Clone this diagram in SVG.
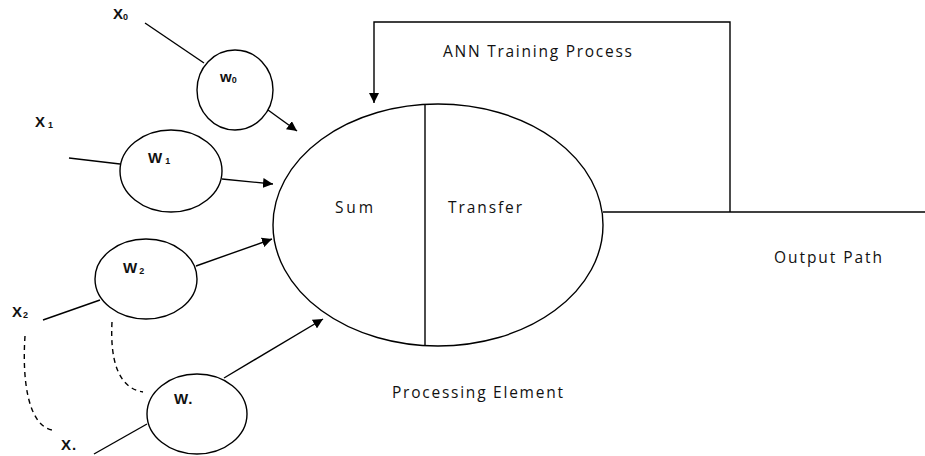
<svg xmlns="http://www.w3.org/2000/svg" width="925" height="456" viewBox="0 0 925 456">
  <defs>
    <marker id="arrow" viewBox="0 0 10 10" refX="10" refY="5" markerWidth="10" markerHeight="10" markerUnits="userSpaceOnUse" orient="auto">
      <path d="M0,0 L10,5 L0,10 Z" fill="#000"/>
    </marker>
    <style>
      .shape { fill: #fff; stroke: #000; stroke-width: 1.4; }
      .line { fill: none; stroke: #000; stroke-width: 1.4; }
      .dash { fill: none; stroke: #000; stroke-width: 1.4; stroke-dasharray: 5 4; }
      .lbl { font-family: "Open Sans", "Liberation Sans", sans-serif; font-size: 15.5px; fill: #111; }
      .var { font-family: "Liberation Sans", "Open Sans", sans-serif; font-size: 15px; font-weight: bold; fill: #111; }
      .sub { font-size: 9px; }
    </style>
  </defs>

  <!-- connectors -->
  <g id="connectors">
    <!-- inputs into weights -->
    <line class="line" x1="145" y1="23" x2="204" y2="63"/>
    <line class="line" x1="69" y1="158" x2="120" y2="164"/>
    <line class="line" x1="43" y1="320" x2="100" y2="300"/>
    <line class="line" x1="94" y1="454" x2="147" y2="424"/>
    <!-- weights into the processing element -->
    <line class="line" x1="268" y1="110" x2="297" y2="131" marker-end="url(#arrow)"/>
    <line class="line" x1="222" y1="179" x2="273" y2="184" marker-end="url(#arrow)"/>
    <line class="line" x1="196" y1="266" x2="272" y2="239" marker-end="url(#arrow)"/>
    <line class="line" x1="224" y1="378" x2="323" y2="319" marker-end="url(#arrow)"/>
    <!-- elided inputs -->
    <path class="dash" d="M112,322 C110,360 118,388 143,392"/>
    <path class="dash" d="M25,336 C22,380 28,425 52,430"/>
    <!-- output path and training feedback loop -->
    <line class="line" x1="603" y1="212" x2="925" y2="212"/>
    <polyline class="line" points="730,212 730,22 374,22 374,103" marker-end="url(#arrow)"/>
  </g>

  <!-- weights -->
  <g id="w0">
    <ellipse class="shape" cx="235" cy="90" rx="38" ry="40"/>
    <text class="var" x="220" y="82" font-weight="normal">w<tspan class="sub" dy="1">0</tspan></text>
  </g>
  <g id="w1">
    <ellipse class="shape" cx="171" cy="171" rx="51" ry="41"/>
    <text class="var" x="148" y="163">W<tspan class="sub" dx="3" dy="1">1</tspan></text>
  </g>
  <g id="w2">
    <ellipse class="shape" cx="146" cy="279" rx="51" ry="40"/>
    <text class="var" x="123" y="273">W<tspan class="sub" dx="2" dy="1">2</tspan></text>
  </g>
  <g id="wn">
    <ellipse class="shape" cx="197" cy="414" rx="50" ry="40"/>
    <text class="var" x="174" y="404">W<tspan dx="1">.</tspan></text>
  </g>

  <!-- inputs -->
  <g id="x0"><text class="var" x="113" y="19">X<tspan class="sub" dy="1">0</tspan></text></g>
  <g id="x1"><text class="var" x="35" y="127">X<tspan class="sub" dx="3" dy="1">1</tspan></text></g>
  <g id="x2"><text class="var" x="12" y="317">X<tspan class="sub" dx="1" dy="1">2</tspan></text></g>
  <g id="xn"><text class="var" x="61" y="450">X<tspan dx="1">.</tspan></text></g>

  <!-- processing element -->
  <g id="processing-element">
    <ellipse class="shape" cx="438" cy="225" rx="165" ry="121"/>
    <line class="line" x1="425" y1="104" x2="425" y2="346"/>
    <text class="lbl" x="335" y="213" textLength="38" lengthAdjust="spacing">Sum</text>
    <text class="lbl" x="448" y="213" textLength="74" lengthAdjust="spacing">Transfer</text>
  </g>

  <!-- captions -->
  <g id="captions">
    <text class="lbl" x="443" y="57" textLength="189" lengthAdjust="spacing">ANN Training Process</text>
    <text class="lbl" x="392" y="398" textLength="171" lengthAdjust="spacing">Processing Element</text>
    <text class="lbl" x="774" y="263" textLength="108" lengthAdjust="spacing">Output Path</text>
  </g>
</svg>
